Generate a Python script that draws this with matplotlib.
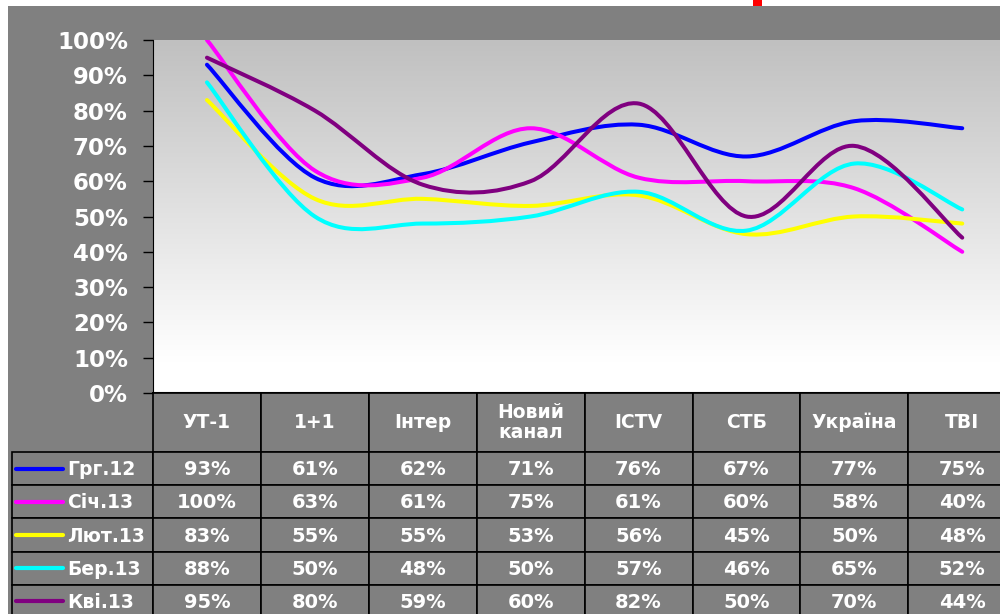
import numpy as np
import matplotlib.pyplot as plt
from matplotlib.path import Path
from matplotlib.patches import PathPatch, Rectangle
from matplotlib.colors import LinearSegmentedColormap

# channels (columns) and months (series)
channels = ['УТ-1', '1+1', 'Інтер', 'Новий\nканал', 'ICTV', 'СТБ', 'Україна', 'ТВІ']
months = ['Грг.12', 'Січ.13', 'Лют.13', 'Бер.13', 'Кві.13']
grg12 = [93, 61, 62, 71, 76, 67, 77, 75]
sich13 = [100, 63, 61, 75, 61, 60, 58, 40]
lyut13 = [83, 55, 55, 53, 56, 45, 50, 48]
ber13 = [88, 50, 48, 50, 57, 46, 65, 52]
kvi13 = [95, 80, 59, 60, 82, 50, 70, 44]
series = [grg12, sich13, lyut13, ber13, kvi13]
colors = ['#0000ff', '#ff00ff', '#ffff00', '#00ffff', '#800080']

GREY = '#808080'
W, H = 1000, 614


def smooth_path(xs, ys):
    # Catmull-Rom style bezier through the points (like Excel's smoothed line)
    pts = np.column_stack([xs, ys]).astype(float)
    n = len(pts)
    verts = [tuple(pts[0])]
    codes = [Path.MOVETO]
    for i in range(n - 1):
        p0 = pts[max(i - 1, 0)]
        p1 = pts[i]
        p2 = pts[i + 1]
        p3 = pts[min(i + 2, n - 1)]
        c1 = p1 + (p2 - p0) / 6
        c2 = p2 - (p3 - p1) / 6
        verts += [tuple(c1), tuple(c2), tuple(p2)]
        codes += [Path.CURVE4] * 3
    return Path(verts, codes)


fig = plt.figure(figsize=(10, 6.14), dpi=100, facecolor='white')
fig.patches.append(Rectangle((8 / W, 0), 1, 1 - 6 / H, transform=fig.transFigure,
                             facecolor=GREY, edgecolor='none', zorder=-10))
fig.patches.append(Rectangle((753 / W, 1 - 6 / H), 9 / W, 6 / H, transform=fig.transFigure,
                             facecolor='red', edgecolor='none', zorder=-9))

# plot area: 100% at y=40px, 0% at y=393px, columns 108px wide from x=153
x0, colw = 153, 107.9
ax = fig.add_axes([x0 / W, 1 - 393 / H, 8 * colw / W, 353 / H])
ax.set_xlim(0, 8)
ax.set_ylim(0, 1)

cmap = LinearSegmentedColormap.from_list(
    'bg', [(0, '#ffffff'), (0.09, '#ffffff'), (1, '#c0c0c0')], N=256)
grad = np.linspace(1, 0, 256).reshape(-1, 1)
ax.imshow(grad, extent=[0, 8, 0, 1], aspect='auto', cmap=cmap, vmin=0, vmax=1,
          origin='upper', zorder=0)

xpos = np.arange(len(channels)) + 0.5
for vals, c in zip(series, colors):
    p = smooth_path(xpos, np.array(vals) / 100)
    ax.add_patch(PathPatch(p, facecolor='none', edgecolor=c, lw=2.9,
                           capstyle='round', joinstyle='round', zorder=3))

for s in ['top', 'right']:
    ax.spines[s].set_visible(False)
ax.spines['left'].set_color('black')
ax.spines['bottom'].set_color('black')
ax.spines['bottom'].set_linewidth(1.5)
ax.set_xticks([])
ax.set_yticks(np.arange(0, 1.01, 0.1))
ax.set_yticklabels([f'{int(round(v * 100))}%' for v in np.arange(0, 1.01, 0.1)])
ax.tick_params(axis='y', length=7, width=1, color='black', pad=11,
               labelsize=16.5, labelcolor='white')
for lab in ax.get_yticklabels():
    lab.set_fontweight('bold')

# data table below the plot, in pixel coordinates
tax = fig.add_axes([0, 0, 1, 1], facecolor='none')
tax.set_xlim(0, W)
tax.set_ylim(H, 0)
tax.axis('off')

head_top, head_h = 393, 59
row_top, row_h = 452, 33.2
left = 12
ec = 'black'
for j, ch in enumerate(channels):
    cx = x0 + j * colw
    tax.add_patch(Rectangle((cx, head_top), colw, head_h, facecolor=GREY,
                            edgecolor=ec, lw=1.2))
    tax.text(cx + colw / 2, head_top + head_h / 2, ch, color='white', fontsize=13.5,
             fontweight='bold', ha='center', va='center', linespacing=1.05)

for i, (m, vals, c) in enumerate(zip(months, series, colors)):
    ry = row_top + i * row_h
    tax.add_patch(Rectangle((left, ry), x0 - left, row_h, facecolor=GREY,
                            edgecolor=ec, lw=1.2))
    tax.plot([16, 63], [ry + row_h / 2, ry + row_h / 2], color=c, lw=3,
             solid_capstyle='round')
    tax.text(67, ry + row_h / 2 + 1, m, color='white', fontsize=13.5,
             fontweight='bold', ha='left', va='center')
    for j, v in enumerate(vals):
        cx = x0 + j * colw
        tax.add_patch(Rectangle((cx, ry), colw, row_h, facecolor=GREY,
                                edgecolor=ec, lw=1.2))
        tax.text(cx + colw / 2, ry + row_h / 2 + 1, f'{v}%', color='white',
                 fontsize=14, fontweight='bold', ha='center', va='center')

fig.savefig('out.png', dpi=100, facecolor=fig.get_facecolor())
